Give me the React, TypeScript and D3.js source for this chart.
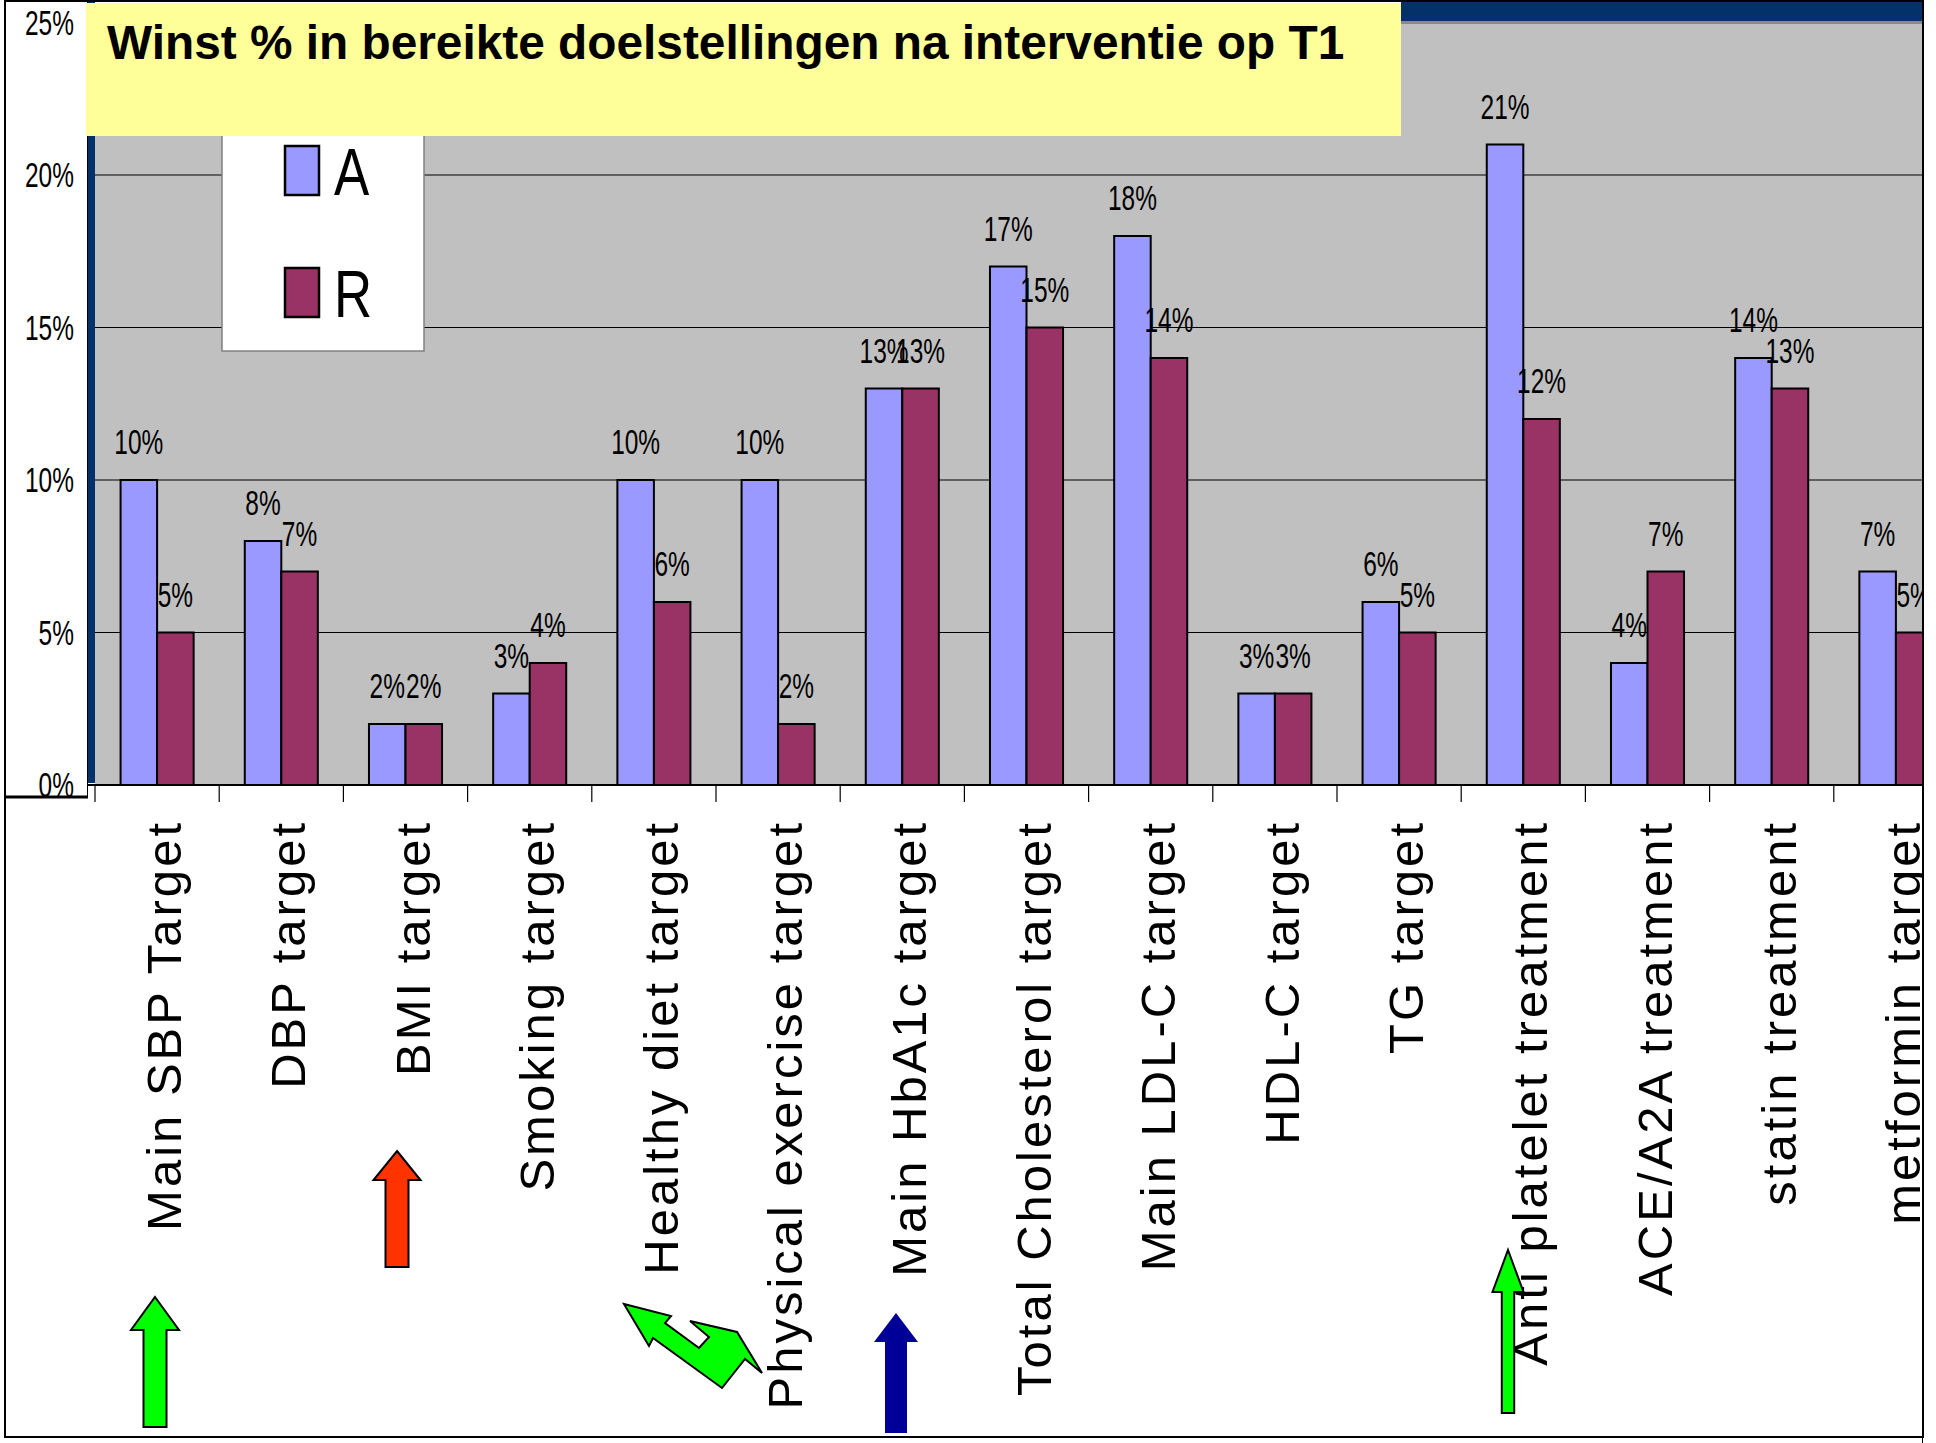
import React from 'react'
import * as d3 from 'd3'

const title = 'Winst % in bereikte doelstellingen na interventie op T1'
const categories = [
  'Main SBP Target',
  'DBP target',
  'BMI target',
  'Smoking target',
  'Healthy diet target',
  'Physical exercise target',
  'Main HbA1c target',
  'Total Cholesterol target',
  'Main LDL-C target',
  'HDL-C target',
  'TG target',
  'Anti platelet treatment',
  'ACE/A2A treatment',
  'statin treatment',
  'metformin target',
]
const seriesNames = ['A', 'R']
const valuesA = [10, 8, 2, 3, 10, 10, 13, 17, 18, 3, 6, 21, 4, 14, 7]
const valuesR = [5, 7, 2, 4, 6, 2, 13, 15, 14, 3, 5, 12, 7, 13, 5]
const yTicks = [0, 5, 10, 15, 20, 25]

const colors = { A: '#9999FF', R: '#993366' }
const FONT = '"Liberation Sans", Arial, sans-serif'
const W = 1936
const H = 1443

// up arrow outline: centre x, tip y, head base y, head half width, shaft half width, bottom y
function upArrow(cx, tip, base, hh, sh, bottom) {
  const p = d3.path()
  p.moveTo(cx, tip)
  p.lineTo(cx + hh, base)
  p.lineTo(cx + sh, base)
  p.lineTo(cx + sh, bottom)
  p.lineTo(cx - sh, bottom)
  p.lineTo(cx - sh, base)
  p.lineTo(cx - hh, base)
  p.closePath()
  return p.toString()
}

const bentArrow = [
  [624, 1304], [671, 1316], [665, 1323], [699, 1348], [709, 1337], [690, 1321],
  [737, 1332], [762, 1373], [745, 1359], [722, 1388], [653, 1338], [649, 1346],
]

export default function App() {
  const margin = { left: 95, top: 22.5, bottom: 785, right: 1923 }
  const step = 124.2

  const x = d3
    .scaleBand()
    .domain(categories)
    .range([margin.left, margin.left + step * categories.length])
    .paddingInner(0)
    .paddingOuter(0)

  const xs = d3.scaleBand().domain(seriesNames).range([0, x.bandwidth()]).paddingInner(0).paddingOuter(0.7)

  const y = d3.scaleLinear().domain([0, 25]).range([margin.bottom, margin.top])

  const rows = categories.map((c, i) => ({ cat: c, A: valuesA[i], R: valuesR[i] }))
  const boundaries = categories.map((c) => x(c)).concat([x(categories[categories.length - 1]) + x.bandwidth()])

  return (
    <div style={{ position: 'absolute', left: 0, top: 0 }}>
      <svg width={W} height={H} style={{ display: 'block', background: '#fff' }} fontFamily={FONT}>
        <defs>
          <clipPath id="clip">
            <rect x={0} y={0} width={margin.right} height={H} />
          </clipPath>
        </defs>
        <g clipPath="url(#clip)">
          {/* plot background */}
          <rect x={margin.left} y={margin.top} width={margin.right - margin.left} height={margin.bottom - margin.top} fill="#C0C0C0" />

          {/* gridlines */}
          {yTicks.filter((t) => t > 0 && t < 25).map((t) => (
            <line key={t} x1={margin.left} x2={margin.right} y1={y(t)} y2={y(t)} stroke="#000" strokeWidth={1.2} />
          ))}

          {/* bars */}
          {rows.map((r) =>
            seriesNames.map((s) => (
              <rect
                key={r.cat + s}
                x={x(r.cat) + xs(s)}
                y={y(r[s])}
                width={xs.bandwidth()}
                height={y(0) - y(r[s])}
                fill={colors[s]}
                stroke="#000"
                strokeWidth={2}
              />
            ))
          )}

          {/* data labels */}
          {rows.map((r) =>
            seriesNames.map((s) => (
              <text
                key={'l' + r.cat + s}
                transform={`translate(${x(r.cat) + xs(s) + xs.bandwidth() / 2},${y(r[s]) - 26}) scale(0.7,1)`}
                textAnchor="middle"
                fontSize={35}
                fill="#000"
              >
                {r[s] + '%'}
              </text>
            ))
          )}

          {/* x axis */}
          <line x1={88} x2={margin.right} y1={margin.bottom} y2={margin.bottom} stroke="#000" strokeWidth={2} />
          {boundaries.map((b, i) => (
            <line key={i} x1={b} x2={b} y1={margin.bottom} y2={802} stroke="#000" strokeWidth={1.2} />
          ))}

          {/* category labels */}
          {categories.map((c) => (
            <text
              key={'c' + c}
              transform={`translate(${x(c) + x.bandwidth() / 2 + 24},820) rotate(-90)`}
              textAnchor="end"
              fontSize={49}
              letterSpacing={3}
              fill="#000"
            >
              {c}
            </text>
          ))}

          {/* legend */}
          <rect x={222} y={100} width={202} height={251} fill="#fff" stroke="#808080" strokeWidth={1.5} />
          {seriesNames.map((s, i) => (
            <g key={'lg' + s}>
              <rect x={285} y={146 + i * 122} width={34} height={49} fill={colors[s]} stroke="#000" strokeWidth={2.5} />
              <text transform={`translate(334,${195 + i * 122}) scale(0.8,1)`} fontSize={66} fill="#000">
                {s}
              </text>
            </g>
          ))}

          {/* frame pieces */}
          <rect x={88} y={2} width={7} height={781} fill="#05316B" />
          <rect x={1401} y={2} width={margin.right - 1401} height={19} fill="#05316B" />
          <line x1={1401} x2={margin.right} y1={22.5} y2={22.5} stroke="#8a8a8a" strokeWidth={3} />
          <line x1={margin.right} x2={margin.right} y1={0} y2={H} stroke="#000" strokeWidth={2} />
        </g>

        {/* y axis panel */}
        <rect x={5} y={1} width={83} height={796} fill="#fff" />
        <line x1={87.5} x2={87.5} y1={1} y2={797} stroke="#000" strokeWidth={1} />
        <line x1={5} x2={88} y1={797} y2={797} stroke="#000" strokeWidth={3} />
        {yTicks.map((t) => (
          <text
            key={'y' + t}
            transform={`translate(74,${y(t)}) scale(0.7,1)`}
            dy="0.35em"
            textAnchor="end"
            fontSize={35}
            fill="#000"
          >
            {t + '%'}
          </text>
        ))}

        {/* title box */}
        <rect x={86} y={3} width={1315} height={133} fill="#FFFF99" />
        <text x={107} y={59} fontSize={47.8} fontWeight="bold" fill="#000">
          {title}
        </text>

        {/* arrows */}
        <path d={upArrow(155, 1297, 1330, 24, 11.5, 1427)} fill="#00FF00" stroke="#000" strokeWidth={2} />
        <path d={upArrow(397, 1151, 1180, 23.5, 11.5, 1267)} fill="#FF3300" stroke="#000" strokeWidth={2} />
        <path d={upArrow(896, 1313, 1342, 22, 11, 1433)} fill="#000099" />
        <path d={upArrow(1508, 1250, 1292, 15.5, 6.2, 1413)} fill="#00FF00" stroke="#000" strokeWidth={2} />
        <path d={d3.line()(bentArrow) + 'Z'} fill="#00FF00" stroke="#000" strokeWidth={2} strokeLinejoin="miter" />

        {/* outer border */}
        <rect x={5} y={1} width={margin.right - 5} height={1436} fill="none" stroke="#000" strokeWidth={2} />
      </svg>
    </div>
  )
}
